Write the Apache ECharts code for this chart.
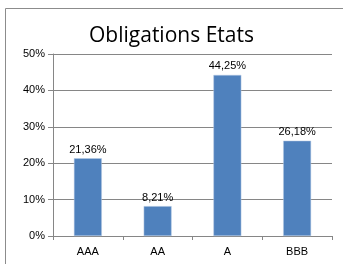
<!DOCTYPE html>
<html>
<head>
<meta charset="utf-8">
<script src="https://cdn.jsdelivr.net/npm/echarts@6/dist/echarts.min.js"></script>
<style>
    html, body {margin: 0; padding: 0; background: #fff;}
</style>
</head>
<body>
<div id="main" style="width: 343px;height: 264px"></div>
<script>
    // données du graphique
    const categories = ['AAA', 'AA', 'A', 'BBB'];
    const values = [21.36, 8.21, 44.25, 26.18];
    const yTicks = [0, 10, 20, 30, 40, 50];

    const font = 'Liberation Sans';
    let myChart = echarts.init(document.getElementById('main'));
    let option = {
        animation: false,
        title: {
            text: 'Obligations Etats',
            left: 'center',
            top: 21,
            textStyle: {fontFamily: 'Open Sans', fontSize: 21, fontWeight: 'normal', color: '#000'}
        },
        graphic: [{
            type: 'rect',
            shape: {x: 5.5, y: 8.5, width: 360, height: 300},
            style: {fill: null, stroke: '#8c8c8c', lineWidth: 1}
        }],
        grid: {left: 53, right: 11, top: 54, bottom: 28},
        xAxis: {
            type: 'category',
            data: categories,
            axisLine: {lineStyle: {color: '#868686'}},
            axisTick: {show: true, length: 4, lineStyle: {color: '#868686'}},
            axisLabel: {fontFamily: font, fontSize: 11, color: '#000', margin: 10}
        },
        yAxis: {
            type: 'value',
            min: yTicks[0],
            max: yTicks[yTicks.length - 1],
            interval: 10,
            axisLine: {show: true, lineStyle: {color: '#868686'}},
            axisTick: {show: true, inside: false, length: 5, lineStyle: {color: '#868686'}},
            splitLine: {lineStyle: {color: '#868686'}},
            axisLabel: {fontFamily: font, fontSize: 11, color: '#000', margin: 8, formatter: '{value}%'}
        },
        series: [{
            type: 'bar',
            data: values,
            barWidth: '40%',
            itemStyle: {color: '#4f81bd', borderColor: '#b9cde5', borderWidth: 0.5},
            label: {
                show: true,
                position: 'top',
                distance: 3,
                fontFamily: font,
                fontSize: 11,
                color: '#000',
                formatter: p => p.value.toFixed(2).replace('.', ',') + '%'
            }
        }]
    };
    myChart.setOption(option);
</script>
</body>
</html>
